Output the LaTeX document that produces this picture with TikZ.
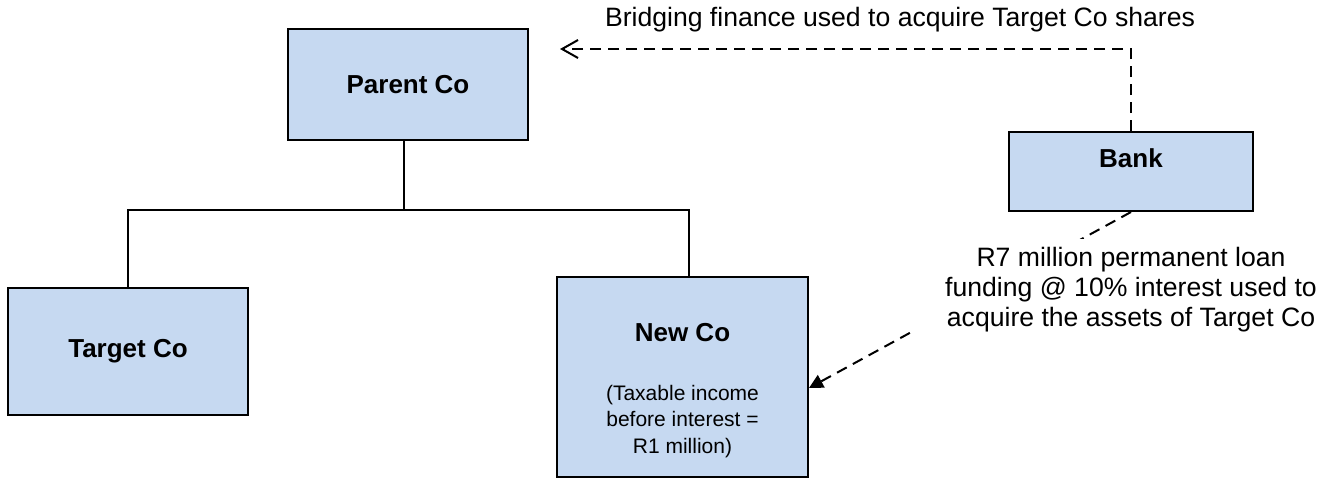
\documentclass[tikz,border=0pt]{standalone}
\usepackage{fontspec}
\setmainfont{Liberation Sans}
\usetikzlibrary{arrows.meta,positioning}
\definecolor{boxblue}{HTML}{C6D9F1}

\begin{document}
\begin{tikzpicture}[x=1pt, y=1pt,
    company/.style={draw=black, line width=1pt, fill=boxblue, inner sep=0pt,
        font=\fontsize{13}{15}\selectfont\bfseries},
    boxtitle/.style={font=\fontsize{13}{15}\selectfont\bfseries},
    boxtext/.style={font=\fontsize{10.5}{13.25}\selectfont, align=center},
    note/.style={font=\fontsize{13.3}{15}\selectfont, align=center},
    owns/.style={line width=0.6pt},
    loan/.style={line width=1pt, dash pattern=on 5.5pt off 3.5pt}]

    \useasboundingbox (0,0) rectangle (669,239.5);

    % companies
    \node[company, minimum width=120pt, minimum height=55.5pt] (parent) at (204,197.25) {Parent Co};
    \node[company, minimum width=120pt, minimum height=63.5pt] (target) at (64,63.75) {Target Co};
    \node[company, minimum width=125.5pt, minimum height=100pt] (newco) at (341.25,51) {};
    \node[company, minimum width=122pt, minimum height=39.5pt] (bank) at (565.5,153.75) {};

    \node[boxtitle] (newconame) at (341.25,73) {New Co};
    \node[boxtext] (newcoincome) at (341.25,28.75) {(Taxable income\\before interest =\\R1 million)};
    \node[boxtitle] (bankname) at (565.5,160.5) {Bank};

    % group structure
    \coordinate (bus) at (0,134.5);
    \draw[owns] ([xshift=-2pt]parent.south) -- ([xshift=-2pt]parent.south |- bus);
    \draw[owns] (target.north) |- ([xshift=3.25pt]newco.north |- bus) -- ([xshift=3.25pt]newco.north);

    % bridging finance
    \coordinate (bridgeend) at (280,215);
    \draw[loan, -{Straight Barb[length=8pt,width=9pt]}] (bank.north) |- (bridgeend);
    \node[note] (bridgenote) at (450,229.5) {Bridging finance used to acquire Target Co shares};

    % permanent loan
    \draw[loan, -{Triangle[length=7pt,width=7pt]}] (bank.south) -- ([yshift=-5.5pt]newco.east);
    \node[note, fill=white, inner xsep=17pt, inner ysep=4pt, below=13.5pt of bank] (loannote)
        {R7 million permanent loan\\funding @ 10\% interest used to\\acquire the assets of Target Co};

\end{tikzpicture}
\end{document}
